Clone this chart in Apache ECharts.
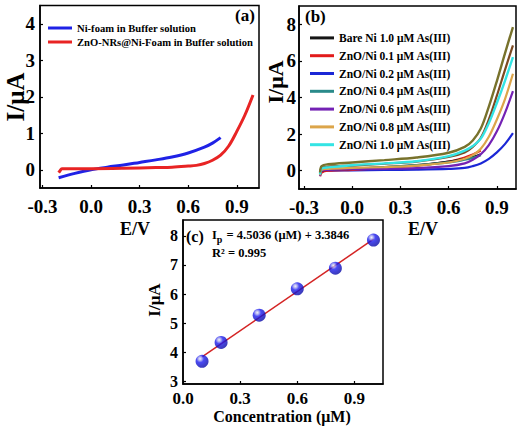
<!DOCTYPE html>
<html><head><meta charset="utf-8">
<script src="https://cdn.jsdelivr.net/npm/echarts@6/dist/echarts.min.js"></script>
<style>html,body{margin:0;padding:0;background:#fff}#c{width:524px;height:429px}</style>
</head><body><div id="c"></div>
<script>
// ---- Panel (a) data ----
const aLegend = ['Ni-foam in Buffer solution', 'ZnO-NRs@Ni-Foam in Buffer solution'];
const aBlueE = [-0.2, -0.1, 0, 0.1, 0.2, 0.3, 0.4, 0.5, 0.6, 0.7, 0.75, 0.8];
const aBlueI = [-0.22, -0.1, 0.0, 0.07, 0.13, 0.2, 0.27, 0.35, 0.46, 0.62, 0.73, 0.88];
const aRedE = [-0.2, -0.19, -0.18, 0, 0.2, 0.4, 0.5, 0.6, 0.65, 0.7, 0.75, 0.8, 0.85, 0.9, 0.95, 1.0];
const aRedI = [-0.08, -0.02, 0.03, 0.03, 0.04, 0.06, 0.07, 0.1, 0.12, 0.17, 0.26, 0.4, 0.65, 1.05, 1.5, 2.05];
const aXTicks = [-0.3, 0, 0.3, 0.6, 0.9];
const aYTicks = [0, 1, 2, 3, 4];

// ---- Panel (b) data ----
const bLegend = ['Bare Ni 1.0 μM As(III)', 'ZnO/Ni 0.1 μM As(III)', 'ZnO/Ni 0.2 μM As(III)', 'ZnO/Ni 0.4 μM As(III)', 'ZnO/Ni 0.6 μM As(III)', 'ZnO/Ni 0.8 μM As(III)', 'ZnO/Ni 1.0 μM As(III)'];
const bLongE = [-0.2, -0.19, -0.15, 0, 0.2, 0.4, 0.6, 0.7, 0.75, 0.8, 0.85, 0.9, 0.95, 1.0];
const bShortE = [-0.2, -0.19, -0.15, 0, 0.2, 0.4, 0.6, 0.7, 0.75, 0.8];
const bBlackI = [-0.2, 0.0, 0.05, 0.1, 0.2, 0.3, 0.5, 0.65, 0.75, 0.9];
const bRedI = [-0.3, -0.1, 0.0, 0.05, 0.15, 0.28, 0.5, 0.72, 0.88, 1.1];
const bTealI = [-0.25, 0.02, 0.07, 0.12, 0.2, 0.3, 0.45, 0.6, 0.7, 0.85];
const bBlueI = [-0.22, -0.05, 0.0, 0.02, 0.04, 0.06, 0.1, 0.15, 0.25, 0.4, 0.65, 1.0, 1.45, 2.05];
const bPurpleI = [-0.3, 0.0, 0.05, 0.08, 0.1, 0.14, 0.25, 0.4, 0.6, 0.9, 1.4, 2.15, 3.15, 4.35];
const bGoldI = [-0.25, 0.05, 0.1, 0.15, 0.2, 0.28, 0.45, 0.65, 0.85, 1.2, 1.85, 2.8, 3.9, 5.3];
const bCyanI = [-0.2, 0.12, 0.18, 0.3, 0.4, 0.52, 0.8, 1.1, 1.35, 1.75, 2.6, 3.7, 4.9, 6.2];
const bBrownI = [-0.15, 0.15, 0.22, 0.28, 0.38, 0.5, 0.75, 1.0, 1.3, 1.8, 2.8, 4.1, 5.5, 6.85];
const bOliveI = [-0.1, 0.25, 0.35, 0.45, 0.58, 0.72, 0.98, 1.3, 1.65, 2.3, 3.5, 4.9, 6.4, 7.85];
const bXTicks = [-0.3, 0, 0.3, 0.6, 0.9];
const bYTicks = [0, 2, 4, 6, 8];

// ---- Panel (c) data ----
const cConc = [0.1, 0.2, 0.4, 0.6, 0.8, 1.0];
const cPeak = [3.68, 4.33, 5.27, 6.18, 6.89, 7.86];
const cFitX = [0.1, 1.0];
const cFitY = [3.835, 7.888];
const cXTicks = [0, 0.3, 0.6, 0.9];
const cYTicks = [3, 4, 5, 6, 7, 8];

const FONT = 'Liberation Serif';
const zip = (xs, ys) => xs.map((x, i) => [x, ys[i]]);

function xAxis(gi, min, max, ticks, fs, margin) {
  return {
    type: 'value', gridIndex: gi, min, max,
    axisLine: { show: true, onZero: false, lineStyle: { color: '#000', width: 1.5 } },
    axisTick: { show: true, inside: true, length: 3, customValues: ticks, lineStyle: { color: '#000', width: 1.2 } },
    axisLabel: { customValues: ticks, margin, color: '#000', fontFamily: FONT, fontWeight: 'bold', fontSize: fs,
      formatter: v => v.toFixed(1) },
    splitLine: { show: false }
  };
}
function yAxis(gi, min, max, ticks, fs, margin) {
  return {
    type: 'value', gridIndex: gi, min, max,
    axisLine: { show: true, onZero: false, lineStyle: { color: '#000', width: 1.5 } },
    axisTick: { show: true, inside: true, length: 3, customValues: ticks, lineStyle: { color: '#000', width: 1.2 } },
    axisLabel: { customValues: ticks, margin, color: '#000', fontFamily: FONT, fontWeight: 'bold', fontSize: fs,
      formatter: v => String(v) },
    splitLine: { show: false }
  };
}
function line(name, xi, data, color, width) {
  return { name, type: 'line', xAxisIndex: xi, yAxisIndex: xi, data, showSymbol: false, symbol: 'none',
    smooth: 0.35, lineStyle: { color, width: width || 3 }, itemStyle: { color }, z: 3 };
}

const bColors = { black: '#151515', red: '#e21b1b', blue: '#1b27d6', teal: '#2a8a8a', purple: '#7422b4',
  gold: '#dca54a', cyan: '#34e4e4', brown: '#7b4a22', olive: '#78722c' };

const chart = echarts.init(document.getElementById('c'), null, { renderer: 'svg' });
chart.setOption({
  backgroundColor: '#fff',
  animation: false,
  grid: [
    { left: 40, top: 5.5, width: 219, height: 182.5, show: true, borderColor: '#000', borderWidth: 1.5 },
    { left: 299, top: 6, width: 217, height: 183, show: true, borderColor: '#000', borderWidth: 1.5 },
    { left: 183, top: 220, width: 200, height: 164, show: true, borderColor: '#000', borderWidth: 1.5 }
  ],
  xAxis: [
    xAxis(0, -0.315, 1.037, aXTicks, 19, 9),
    xAxis(1, -0.331, 1.019, bXTicks, 19, 9),
    xAxis(2, 0, 1.05, cXTicks, 17, 6)
  ],
  yAxis: [
    yAxis(0, -0.5, 4.5, aYTicks, 19, 5),
    yAxis(1, -1, 9, bYTicks, 19, 3),
    yAxis(2, 2.9, 8.55, cYTicks, 16, 5)
  ],
  legend: [
    { data: aLegend, orient: 'vertical', left: 43, top: 16, itemWidth: 24, itemHeight: 3, itemGap: 0,
      icon: 'rect', textStyle: { fontFamily: FONT, fontWeight: 'bold', fontSize: 10.6, color: '#000', lineHeight: 14 } },
    { data: bLegend, orient: 'vertical', left: 305, top: 24, itemWidth: 24, itemHeight: 3, itemGap: 0,
      icon: 'rect', textStyle: { fontFamily: FONT, fontWeight: 'bold', fontSize: 11.5, color: '#000', lineHeight: 17.8 } }
  ],
  series: [
    line(aLegend[0], 0, zip(aBlueE, aBlueI), '#1f22e6', 3),
    line(aLegend[1], 0, zip(aRedE, aRedI), '#e82424', 3),

    line(bLegend[2], 1, zip(bLongE, bBlueI), bColors.blue, 2.2),
    line(bLegend[1], 1, zip(bShortE, bRedI), bColors.red, 2.2),
    line(bLegend[0], 1, zip(bShortE, bBlackI), bColors.black, 2.2),
    line(bLegend[3], 1, zip(bShortE, bTealI), bColors.teal, 2.2),
    line(bLegend[4], 1, zip(bLongE, bPurpleI), bColors.purple, 2.2),
    line(bLegend[5], 1, zip(bLongE, bGoldI), bColors.gold, 2.2),
    line('trace 0.8', 1, zip(bLongE, bBrownI), bColors.brown, 2.2),
    line(bLegend[6], 1, zip(bLongE, bCyanI), bColors.cyan, 2.4),
    line('trace 1.0', 1, zip(bLongE, bOliveI), bColors.olive, 2.4),

    { name: 'fit', type: 'line', xAxisIndex: 2, yAxisIndex: 2, data: zip(cFitX, cFitY), showSymbol: false,
      symbol: 'none', lineStyle: { color: '#d42424', width: 1.5 }, z: 2 },
    { name: 'Ip', type: 'scatter', xAxisIndex: 2, yAxisIndex: 2, data: zip(cConc, cPeak), symbolSize: 13, z: 4,
      itemStyle: { color: { type: 'radial', x: 0.35, y: 0.3, r: 0.7, colorStops: [
        { offset: 0, color: '#f0f0f4' }, { offset: 0.2, color: '#9a9af0' }, { offset: 0.42, color: '#1c1cf0' }, { offset: 1, color: '#0a0aa8' } ] } } }
  ],
  graphic: [
    { type: 'text', left: 235, top: 7, style: { text: '(a)', font: 'bold 17px "Liberation Serif"', fill: '#000' } },
    { type: 'text', left: 305, top: 8, style: { text: '(b)', font: 'bold 17px "Liberation Serif"', fill: '#000' } },
    { type: 'text', left: 186, top: 228, style: { text: '(c)', font: 'bold 16px "Liberation Serif"', fill: '#000' } },
    { type: 'text', left: 212, top: 228, style: {
        text: '{a|I}{s|p}{a| = 4.5036 (μM) + 3.3846}',
        rich: { a: { font: 'bold 12.5px "Liberation Serif"', fill: '#000', padding: [0, 0, 3, 0] },
                s: { font: 'bold 10px "Liberation Serif"', fill: '#000', padding: [6, 1, 0, 0] } } } },
    { type: 'text', left: 212, top: 246, style: { text: 'R² = 0.995', font: 'bold 12.5px "Liberation Serif"', fill: '#000' } },
    { type: 'text', x: 135, y: 229, style: { text: 'E/V', font: 'bold 18px "Liberation Serif"', fill: '#000', align: 'center', verticalAlign: 'middle' } },
    { type: 'text', x: 423, y: 229, style: { text: 'E/V', font: 'bold 18px "Liberation Serif"', fill: '#000', align: 'center', verticalAlign: 'middle' } },
    { type: 'text', x: 15, y: 97, rotation: Math.PI / 2, style: { text: 'I/μA', font: 'bold 25px "Liberation Serif"', fill: '#000', align: 'center', verticalAlign: 'middle' } },
    { type: 'text', x: 275, y: 82, rotation: Math.PI / 2, style: { text: 'I/μA', font: 'bold 22px "Liberation Serif"', fill: '#000', align: 'center', verticalAlign: 'middle' } },
    { type: 'text', x: 154, y: 300, rotation: Math.PI / 2, style: { text: 'I/μA', font: 'bold 17px "Liberation Serif"', fill: '#000', align: 'center', verticalAlign: 'middle' } },
    { type: 'text', x: 282, y: 416, style: { text: 'Concentration (μM)', font: 'bold 16px "Liberation Serif"', fill: '#000', align: 'center', verticalAlign: 'middle' } }
  ]
});
</script></body></html>
